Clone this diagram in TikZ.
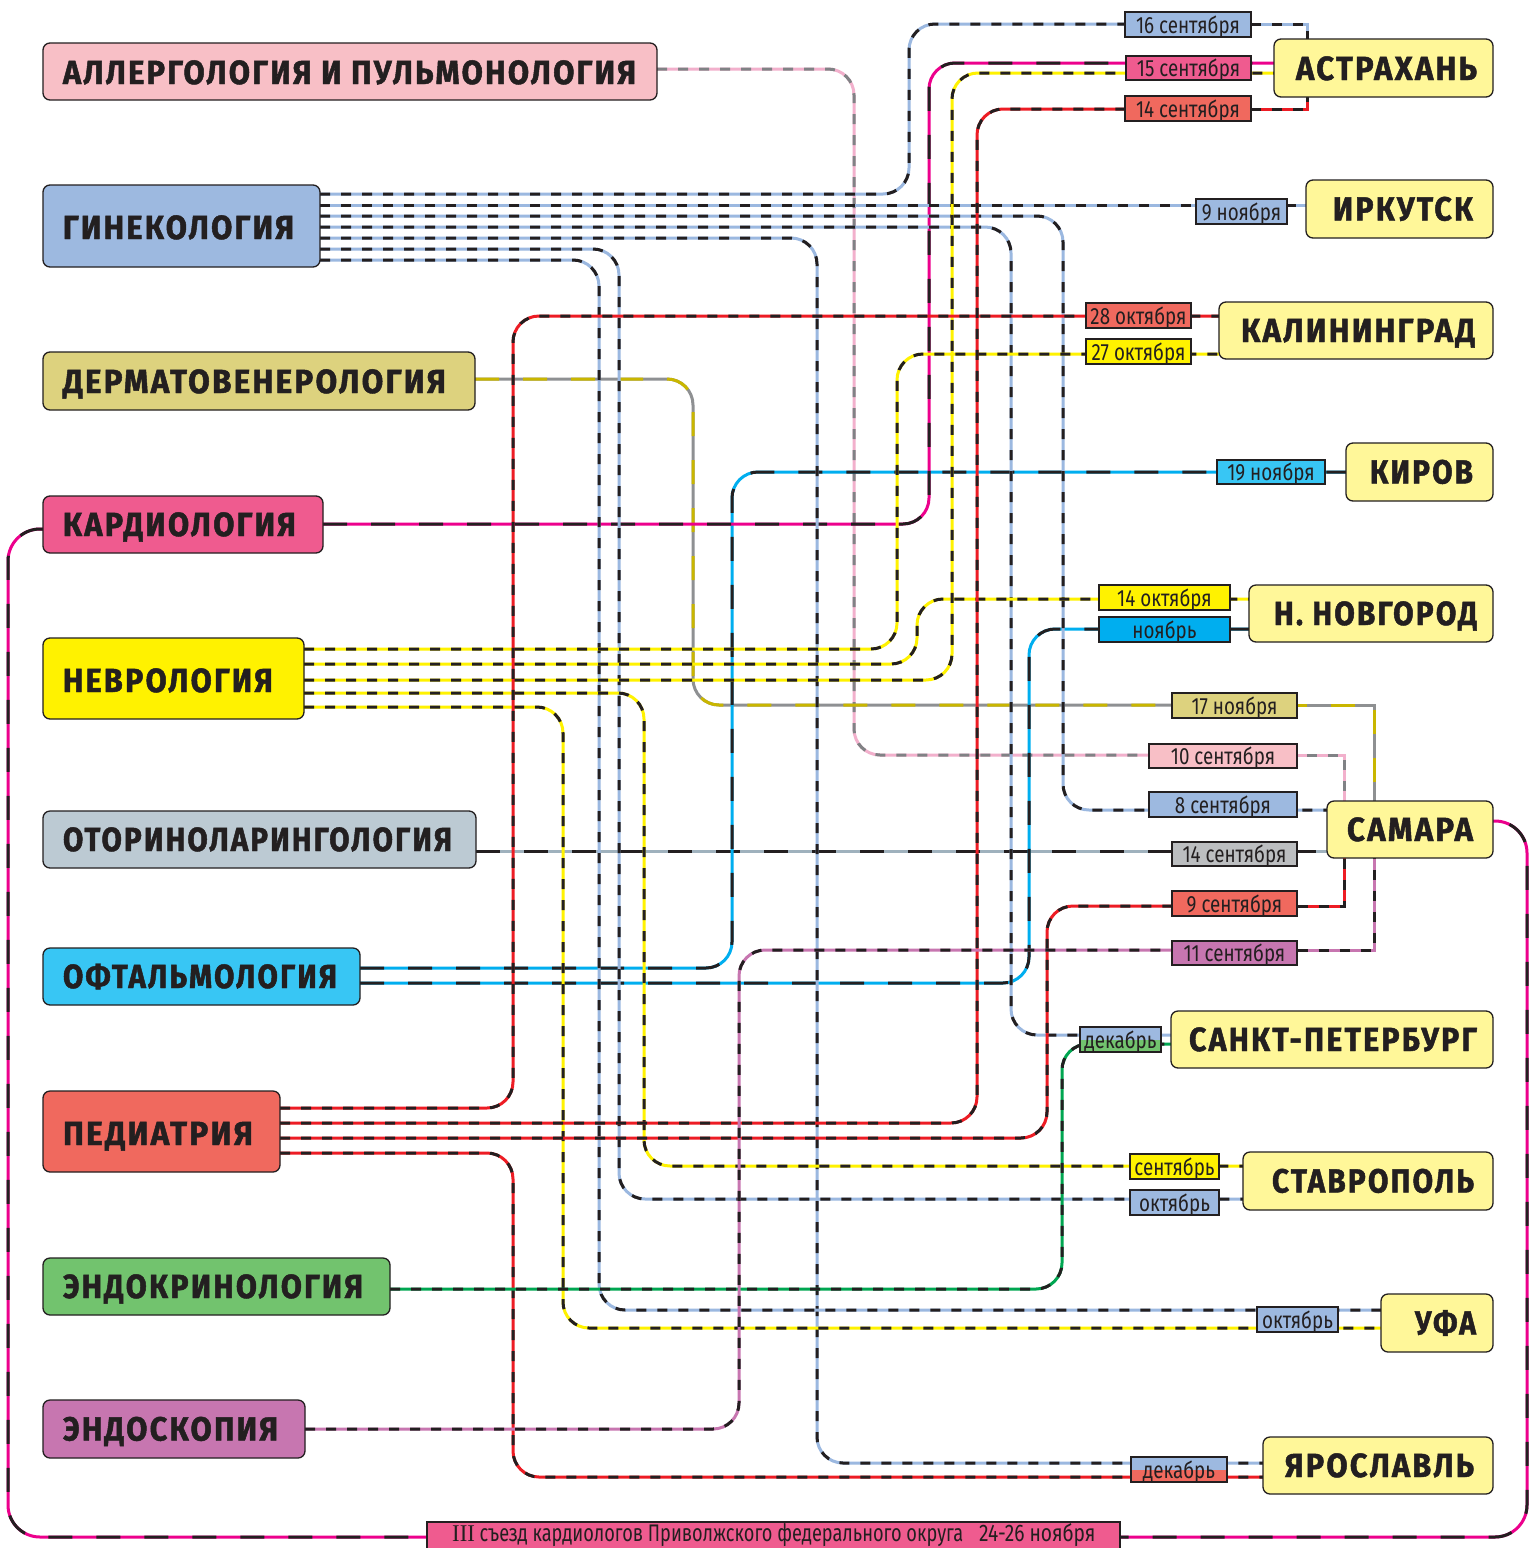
\documentclass[tikz,border=0pt]{standalone}
\usepackage{fontspec}
\usepackage{graphicx}
\setmainfont{Fira Sans}
\newfontfamily\boldlab[FakeStretch=0.8,LetterSpace=6,FakeBold=1.3]{Fira Sans}
\newfontfamily\datefont[FakeStretch=0.8]{Fira Sans}
\newfontfamily\serifnum{Liberation Serif}
\usetikzlibrary{backgrounds}

\definecolor{bord}{HTML}{231F20}
\definecolor{txt}{HTML}{231F20}
\definecolor{gfill}{HTML}{9DB9E0}
\definecolor{gline}{HTML}{9BB8E0}
\definecolor{yfill}{HTML}{FFF200}
\definecolor{cfill}{HTML}{EF5B8F}
\definecolor{cline}{HTML}{EC008C}
\definecolor{dfill}{HTML}{DDD27E}
\definecolor{dolive}{HTML}{C9B600}
\definecolor{dgrey}{HTML}{8E9092}
\definecolor{afill}{HTML}{F8BFC6}
\definecolor{apink}{HTML}{F2B0CC}
\definecolor{agrey}{HTML}{808285}
\definecolor{ofill}{HTML}{BCCAD3}
\definecolor{oline}{HTML}{9FB1BD}
\definecolor{phfill}{HTML}{38C6F4}
\definecolor{phline}{HTML}{00AEEF}
\definecolor{pfill}{HTML}{F0695E}
\definecolor{pline}{HTML}{ED1C24}
\definecolor{efill}{HTML}{72C36E}
\definecolor{eline}{HTML}{00A651}
\definecolor{sfill}{HTML}{C776B0}
\definecolor{cityfill}{HTML}{FFF799}
\definecolor{greyfill}{HTML}{BCBEC0}

\tikzset{
  box/.style={draw=bord, line width=1.3pt, rounded corners=7pt, inner sep=0pt, outer sep=0pt, anchor=north west},
  dbox/.style={draw=bord, line width=1.1pt, inner sep=0pt, outer sep=0pt, text height=17pt, text depth=0pt,
    font=\datefont\fontsize{23.5}{26}\selectfont, text=txt},
  btext/.style={inner sep=0pt, outer sep=0pt, font=\boldlab\bfseries\fontsize{33.5}{36}\selectfont, text=txt},
  rt/.style={line width=3pt, rounded corners=26pt},
  sd/.style={dash pattern=on 10pt off 11pt},
  ld/.style={dash pattern=on 24pt off 24pt},
}

% box node: name, x1, y1, x2, y2, fill
\newcommand\bx[6]{\node[box, fill=#6, minimum width={(#4-#2)*1pt}, minimum height={(#5-#3)*1pt}] (#1) at (#2,#3) {};}
% date node: name, x1, y1, x2, y2, fill, text
\newcommand\dt[7]{\node[dbox, fill=#6, minimum width={(#4-#2)*1pt}, minimum height={(#5-#3)*1pt}] (#1) at ({(#2+#4)/2},{(#3+#5)/2}) {#7};}
% specialty text: name, x, baseline y, width, text
\newcommand\spl[5]{\node[btext, anchor=base west] (#1) at (#2,#3) {\resizebox{#4pt}{\height}{#5}};}
% city text: name, cx, baseline y, width, text
\newcommand\ctl[5]{\node[btext, anchor=base] (#1) at (#2,#3) {\resizebox{#4pt}{\height}{#5}};}
% route: base colour, dash colour, dash style, path
\newcommand\route[4]{\draw[rt, #1] #4; \draw[rt, #2, #3] #4;}

\begin{document}
\begin{tikzpicture}[x=1pt, y=-1pt]
\useasboundingbox (0,0) rectangle (1530,1548);
\clip (0,0) rectangle (1530,1548);

% ---------- specialty boxes ----------
\bx{all}{43}{43}{657}{100}{afill}
\bx{gyn}{43}{185}{320}{267}{gfill}
\bx{derm}{43}{352}{475}{410}{dfill}
\bx{card}{43}{496}{323}{553}{cfill}
\bx{neu}{43}{638}{304}{719}{yfill}
\bx{oto}{43}{811}{476}{868}{ofill}
\bx{oph}{43}{948}{360}{1005}{phfill}
\bx{ped}{43}{1091}{280}{1172}{pfill}
\bx{endo}{43}{1258}{390}{1315}{efill}
\bx{eds}{43}{1400}{305}{1458}{sfill}

\spl{allT}{63}{84}{573}{АЛЛЕРГОЛОГИЯ И ПУЛЬМОНОЛОГИЯ}
\spl{gynT}{63}{239}{231}{ГИНЕКОЛОГИЯ}
\spl{dermT}{63}{393}{383}{ДЕРМАТОВЕНЕРОЛОГИЯ}
\spl{cardT}{63}{536}{233}{КАРДИОЛОГИЯ}
\spl{neuT}{63}{692}{210}{НЕВРОЛОГИЯ}
\spl{otoT}{63}{851}{389}{ОТОРИНОЛАРИНГОЛОГИЯ}
\spl{ophT}{63}{988}{274}{ОФТАЛЬМОЛОГИЯ}
\spl{pedT}{63}{1145}{190}{ПЕДИАТРИЯ}
\spl{endoT}{63}{1298}{300}{ЭНДОКРИНОЛОГИЯ}
\spl{edsT}{63}{1440.5}{215}{ЭНДОСКОПИЯ}

% ---------- city boxes ----------
\bx{ast}{1274}{39}{1493}{97}{cityfill}
\bx{irk}{1306}{180}{1493}{238}{cityfill}
\bx{kal}{1219}{302}{1493}{359}{cityfill}
\bx{kir}{1346}{443}{1493}{501}{cityfill}
\bx{nno}{1249}{585}{1493}{642}{cityfill}
\bx{sam}{1327}{801}{1493}{858}{cityfill}
\bx{spb}{1171}{1011}{1493}{1068}{cityfill}
\bx{sta}{1243}{1152}{1493}{1210}{cityfill}
\bx{ufa}{1381}{1294}{1493}{1352}{cityfill}
\bx{yar}{1263}{1437}{1493}{1494}{cityfill}

\ctl{astT}{1386.5}{80}{181}{АСТРАХАНЬ}
\ctl{irkT}{1403}{220.5}{140}{ИРКУТСК}
\ctl{kalT}{1358}{342}{234}{КАЛИНИНГРАД}
\ctl{kirT}{1421.5}{483.5}{103}{КИРОВ}
\ctl{nnoT}{1375.5}{625}{203}{Н. НОВГОРОД}
\ctl{samT}{1410}{841}{126}{САМАРА}
\ctl{spbT}{1333}{1051}{288}{САНКТ-ПЕТЕРБУРГ}
\ctl{staT}{1373}{1192.5}{202}{СТАВРОПОЛЬ}
\ctl{ufaT}{1445.5}{1334.5}{61}{УФА}
\ctl{yarT}{1379.5}{1477}{189}{ЯРОСЛАВЛЬ}

% ---------- date labels ----------
\dt{d16s}{1125}{12}{1251}{37}{gfill}{16 сентября}
\dt{d15s}{1126}{56}{1251}{80}{cfill}{15 сентября}
\dt{d14s}{1125}{96}{1251}{121}{pfill}{14 сентября}
\dt{d9n}{1196}{199}{1287}{224}{gfill}{9 ноября}
\dt{d28o}{1086}{303}{1191}{328}{pfill}{28 октября}
\dt{d27o}{1086}{339}{1191}{364}{yfill}{27 октября}
\dt{d19n}{1217}{460}{1325}{484}{phfill}{19 ноября}
\dt{d14o}{1099}{585}{1230}{610}{yfill}{14 октября}
\dt{dnov}{1099}{617}{1230}{642}{phline}{ноябрь}
\dt{d17n}{1172}{693}{1297}{718}{dfill}{17 ноября}
\dt{d10s}{1149}{744}{1297}{768}{afill}{10 сентября}
\dt{d8s}{1149}{792}{1297}{817}{gfill}{8 сентября}
\dt{d14sb}{1172}{842}{1297}{866}{greyfill}{14 сентября}
\dt{d9s}{1172}{891}{1297}{916}{pfill}{9 сентября}
\dt{d11s}{1172}{941}{1297}{965}{sfill}{11 сентября}
\node[dbox, minimum width=81pt, minimum height=25pt,
  path picture={\fill[gfill] (path picture bounding box.north west) rectangle (path picture bounding box.east);
                \fill[efill] (path picture bounding box.west) rectangle (path picture bounding box.south east);}]
  (ddecs) at (1120.5,1039.5) {декабрь};
\dt{dseps}{1130}{1154}{1219}{1179}{yfill}{сентябрь}
\dt{docts}{1130}{1190}{1219}{1215}{gfill}{октябрь}
\dt{doctu}{1257}{1307}{1338}{1332}{gfill}{октябрь}
\node[dbox, minimum width=96pt, minimum height=25pt,
  path picture={\fill[gfill] (path picture bounding box.north west) rectangle (path picture bounding box.east);
                \fill[pfill] (path picture bounding box.west) rectangle (path picture bounding box.south east);}]
  (ddecy) at (1179,1469.5) {декабрь};

% ---------- banner ----------
\node[box, rounded corners=0pt, fill=cfill, minimum width=693pt, minimum height=40pt] (ban) at (427,1522) {};
\node[inner sep=0pt, anchor=base west, text=txt, font=\datefont\fontsize{24}{26}\selectfont] (banT) at (452,1541.5)
  {\resizebox{511pt}{\height}{{\serifnum III} съезд кардиологов Приволжского федерального округа}\hspace{16pt}24-26 ноября};

% ---------- routes ----------
\begin{pgfonlayer}{background}
\fill[white] (0,0) rectangle (1530,1548);

% cardiology loop to the banner and Samara
\draw[rt, rounded corners=32pt, cline] (card.west |- 0,529) -- (8,529) -- (8,1537) -- (1527,1537) -- (1527,821) -- (sam.east |- 0,821);
\draw[rt, rounded corners=32pt, bord, ld] (card.west |- 0,529) -- (8,529) -- (8,1537) -- (1527,1537) -- (1527,821) -- (sam.east |- 0,821);

% allergology
\route{apink}{agrey}{sd}{(all.east |- 0,69) -- (854,69) -- (854,755) -- (d10s.center |- 0,755)}
\route{apink}{agrey}{sd}{[sharp corners] (d10s.center |- 0,755) -- (1344,755) -- (1344,755 |- sam.north)}

% dermatology
\route{dgrey}{dolive}{ld}{(derm.east |- 0,379) -- (693,379) -- (693,705) -- (d17n.center |- 0,705)}
\route{dgrey}{dolive}{ld}{[sharp corners] (d17n.center |- 0,705) -- (1374,705) -- (1374,705 |- sam.north)}

% otolaryngology
\route{oline}{bord}{ld}{(oto.east |- 0,851) -- (sam.west |- 0,851)}

% ophthalmology
\route{phline}{bord}{ld}{(oph.east |- 0,968) -- (732,968) -- (732,472) -- (kir.west |- 0,472)}
\route{phline}{bord}{ld}{(oph.east |- 0,983) -- (1029,983) -- (1029,629) -- (nno.west |- 0,629)}

% cardiology to Astrakhan
\route{cline}{bord}{ld}{(card.east |- 0,524) -- (929,524) -- (929,63) -- (ast.west |- 0,63)}

% gynecology
\route{gline}{bord}{sd}{(gyn.east |- 0,194) -- (909,194) -- (909,24) -- (d16s.center |- 0,24)}
\route{gline}{bord}{sd}{[sharp corners] (d16s.center |- 0,24) -- (1307,24) -- (1307,24 |- ast.north)}
\route{gline}{bord}{sd}{(gyn.east |- 0,205) -- (irk.west |- 0,205)}
\route{gline}{bord}{sd}{(gyn.east |- 0,216) -- (1063,216) -- (1063,810) -- (sam.west |- 0,810)}
\route{gline}{bord}{sd}{(gyn.east |- 0,227) -- (1011,227) -- (1011,1035) -- (spb.west |- 0,1035)}
\route{gline}{bord}{sd}{(gyn.east |- 0,238) -- (817,238) -- (817,1463) -- (yar.west |- 0,1463)}
\route{gline}{bord}{sd}{(gyn.east |- 0,249) -- (619,249) -- (619,1199) -- (sta.west |- 0,1199)}
\route{gline}{bord}{sd}{(gyn.east |- 0,260) -- (599,260) -- (599,1310) -- (ufa.west |- 0,1310)}

% neurology
\route{yfill}{bord}{sd}{(neu.east |- 0,649) -- (897,649) -- (897,354) -- (kal.west |- 0,354)}
\route{yfill}{bord}{sd}{(neu.east |- 0,664) -- (917,664) -- (917,599) -- (nno.west |- 0,599)}
\route{yfill}{bord}{sd}{(neu.east |- 0,680) -- (952,680) -- (952,73) -- (ast.west |- 0,73)}
\route{yfill}{bord}{sd}{(neu.east |- 0,693) -- (644,693) -- (644,1166) -- (sta.west |- 0,1166)}
\route{yfill}{bord}{sd}{(neu.east |- 0,707) -- (563,707) -- (563,1328) -- (ufa.west |- 0,1328)}

% pediatrics
\route{pline}{bord}{sd}{(ped.east |- 0,1108) -- (513,1108) -- (513,316) -- (kal.west |- 0,316)}
\route{pline}{bord}{sd}{(ped.east |- 0,1123) -- (977,1123) -- (977,109) -- (d14s.center |- 0,109)}
\route{pline}{bord}{sd}{[sharp corners] (d14s.center |- 0,109) -- (1307,109) -- (1307,109 |- ast.south)}
\route{pline}{bord}{sd}{(ped.east |- 0,1138) -- (1047,1138) -- (1047,906) -- (d9s.center |- 0,906)}
\route{pline}{bord}{sd}{[sharp corners] (d9s.center |- 0,906) -- (1344,906) -- (1344,906 |- sam.south)}
\route{pline}{bord}{sd}{(ped.east |- 0,1153) -- (513,1153) -- (513,1477) -- (yar.west |- 0,1477)}

% endocrinology
\route{eline}{bord}{sd}{(endo.east |- 0,1289) -- (1062,1289) -- (1062,1044) -- (spb.west |- 0,1044)}

% endoscopy
\route{sfill}{bord}{sd}{(eds.east |- 0,1429) -- (739,1429) -- (739,950) -- (d11s.center |- 0,950)}
\route{sfill}{bord}{sd}{[sharp corners] (d11s.center |- 0,950) -- (1374,950) -- (1374,950 |- sam.south)}
\end{pgfonlayer}
\end{tikzpicture}
\end{document}
